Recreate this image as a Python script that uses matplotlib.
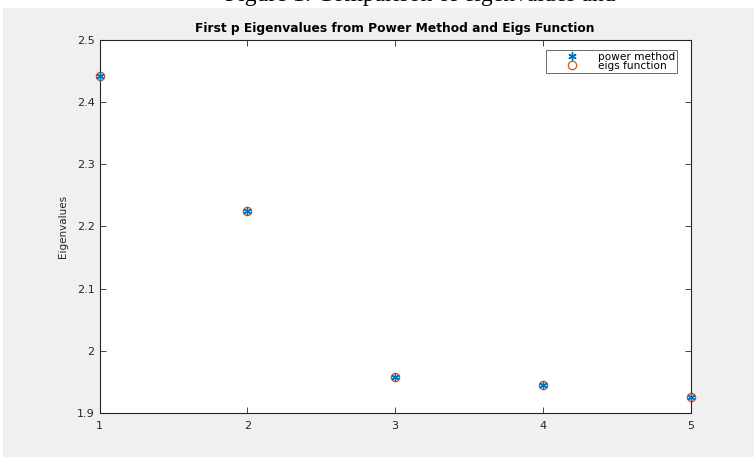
import matplotlib
matplotlib.use("Agg")
import matplotlib.pyplot as plt
from matplotlib.patches import Rectangle

# eigenvalue index and values
k = [1, 2, 3, 4, 5]
power_method = [2.442, 2.225, 1.958, 1.945, 1.926]
eigs_function = [2.442, 2.225, 1.958, 1.945, 1.926]
yticks = [1.9, 2.0, 2.1, 2.2, 2.3, 2.4, 2.5]
ytick_labels = ["1.9", "2", "2.1", "2.2", "2.3", "2.4", "2.5"]

plt.rcParams['font.family'] = ['DejaVu Sans']

fig = plt.figure(figsize=(7.54, 4.57), dpi=100, facecolor='white')

# caption of the document page, cut off at the top
cap = fig.text(225 / 754, 1 - 1.5 / 457, "Figure 1: Comparison of eigenvalues and", family='Liberation Serif',
               fontsize=17, ha='left', va='baseline', color='black')
cap.set_zorder(0.5)
# MATLAB grey figure background
fig.patches.append(Rectangle((3 / 754, 0), 1, 1 - 8 / 457, transform=fig.transFigure,
                             facecolor='#f0f0f0', edgecolor='none', zorder=1))

ax = fig.add_axes([0.132, 0.0963, 0.784, 0.8162])
ax.set_zorder(2)
ax.set_facecolor('white')

ax.plot(k, power_method, linestyle='none', marker=(6, 2, 0), color='#0072BD',
        markersize=6, markeredgewidth=1.0,
        label='power method', zorder=3, clip_on=False)
ax.plot(k, eigs_function, linestyle='none', marker='o', markerfacecolor='none',
        markeredgecolor='#D95319', markersize=6, markeredgewidth=0.9,
        label='eigs function', zorder=2, clip_on=False)

ax.set_xlim(1, 5)
ax.set_ylim(1.9, 2.5)
ax.set_xticks(k)
ax.set_yticks(yticks)
ax.set_yticklabels(ytick_labels)

for s in ax.spines.values():
    s.set_color('#262626')
    s.set_linewidth(0.8)
ax.tick_params(direction='in', top=True, right=True, length=4, width=0.6,
               colors='#262626', labelsize=8)
ax.tick_params(axis='x', pad=6)

ax.set_title('First p Eigenvalues from Power Method and Eigs Function',
             fontsize=8.8, fontweight='bold', color='black', pad=6)
ax.set_ylabel('Eigenvalues', fontsize=7.5, color='#262626', labelpad=6)

leg = ax.legend(loc='upper right', bbox_to_anchor=(677 / 754, 1 - 50 / 457),
                bbox_transform=fig.transFigure, borderaxespad=0,
                fontsize=7.6, frameon=True, fancybox=False,
                edgecolor='#262626', handletextpad=0.2, handlelength=4.5,
                borderpad=0.2, labelspacing=-0.1)
leg.get_frame().set_linewidth(0.6)

fig.savefig('out.png', dpi=100, facecolor=fig.get_facecolor())
